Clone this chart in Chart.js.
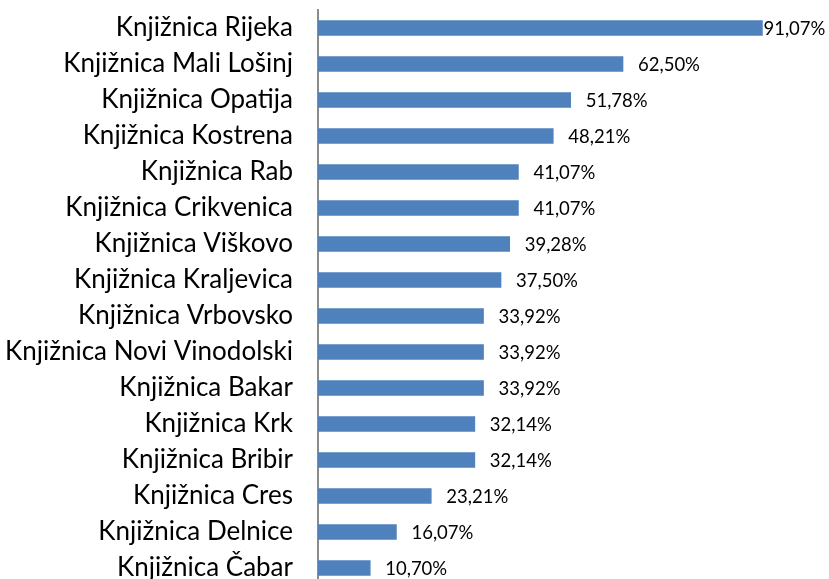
<!DOCTYPE html>
<html>
<head>
<meta charset="utf-8">
<script src="https://cdn.jsdelivr.net/npm/chart.js@4.4.1/dist/chart.umd.min.js"></script>
<style>
  html, body { margin: 0; padding: 0; overflow: hidden; background: #fff; }
  canvas { display: block; }
</style>
</head>
<body>
<canvas id="knjiznice" width="829" height="586"></canvas>
<script>
// podaci s grafikona
const categories = [
    'Knjižnica Rijeka', 'Knjižnica Mali Lošinj', 'Knjižnica Opatija', 'Knjižnica Kostrena',
    'Knjižnica Rab', 'Knjižnica Crikvenica', 'Knjižnica Viškovo', 'Knjižnica Kraljevica',
    'Knjižnica Vrbovsko', 'Knjižnica Novi Vinodolski', 'Knjižnica Bakar', 'Knjižnica Krk',
    'Knjižnica Bribir', 'Knjižnica Cres', 'Knjižnica Delnice', 'Knjižnica Čabar'
];
const values = [91.07, 62.50, 51.78, 48.21, 41.07, 41.07, 39.28, 37.50, 33.92, 33.92, 33.92, 32.14, 32.14, 23.21, 16.07, 10.70];
const axisMax = 100;

const fontFamily = 'Lato, "Open Sans", sans-serif';

// oznake vrijednosti desno od stupca
const valueLabels = {
    id: 'valueLabels',
    afterDatasetsDraw(chart) {
        const c = chart.ctx;
        const meta = chart.getDatasetMeta(0);
        c.save();
        c.font = '18.5px ' + fontFamily;
        c.fillStyle = '#000';
        c.textBaseline = 'middle';
        c.textAlign = 'left';
        meta.data.forEach((bar, i) => {
            const txt = values[i].toFixed(2).replace('.', ',') + '%';
            const w = c.measureText(txt).width;
            let x = bar.x + 15;
            if (x + w > chart.width - 2) x = bar.x + 1;
            c.fillText(txt, x, bar.y + 1);
        });
        c.restore();
    }
};

new Chart(document.getElementById('knjiznice'), {
    type: 'bar',
    data: {
        labels: categories,
        datasets: [{
            data: values,
            backgroundColor: '#4f81bd',
            barThickness: 15,
        }]
    },
    plugins: [valueLabels],
    options: {
        indexAxis: 'y',
        responsive: false,
        animation: false,
        layout: {padding: {top: 10, right: 23, bottom: 0, left: 0}},
        plugins: {
            legend: {display: false},
            tooltip: {enabled: false},
        },
        scales: {
            x: {
                display: false,
                min: 0,
                max: axisMax,
            },
            y: {
                afterFit: (scale) => {
                    // fiksna širina osi, bez dodatnog razmaka gore/dolje
                    scale.width = 318;
                    scale.paddingTop = 0;
                    scale.paddingBottom = 0;
                },
                grid: {display: false, drawTicks: false},
                border: {display: true, color: '#8c8c8c', width: 2},
                ticks: {
                    padding: 25,
                    color: '#000',
                    font: {family: fontFamily, size: 26},
                },
            },
        },
    },
});
</script>
</body>
</html>
